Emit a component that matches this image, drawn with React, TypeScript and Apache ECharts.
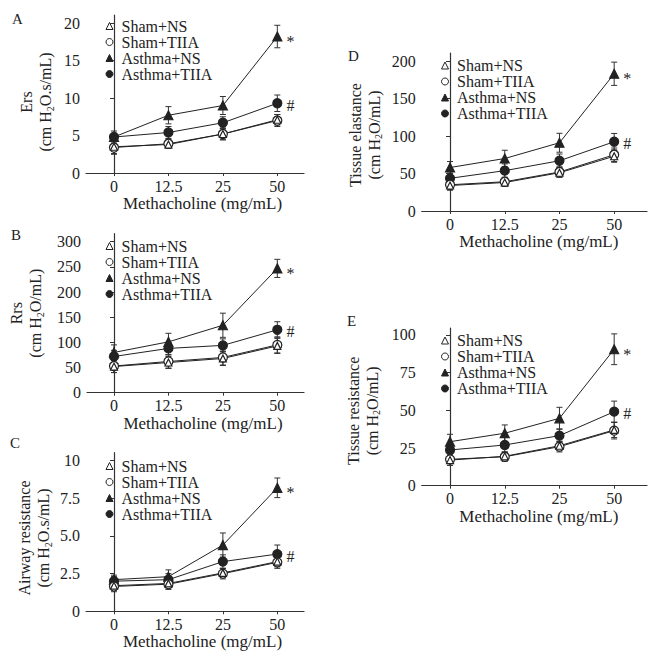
import React, { useEffect, useRef } from 'react';
import * as echarts from 'echarts';

const doses = ['0', '12.5', '25', '50'];
const groups = ['Sham+NS', 'Sham+TIIA', 'Asthma+NS', 'Asthma+TIIA'];

// Panel A: Ers
const ersShamNS = [3.5, 3.8, 5.2, 7.1];
const ersShamNSErr = [0.9, 0.5, 0.7, 0.7];
const ersShamTIIA = [3.4, 3.9, 5.2, 7.0];
const ersShamTIIAErr = [0.9, 0.6, 0.8, 0.8];
const ersAsthmaNS = [4.8, 7.7, 9.0, 18.2];
const ersAsthmaNSErr = [0.8, 1.15, 1.2, 1.5];
const ersAsthmaTIIA = [4.8, 5.4, 6.7, 9.3];
const ersAsthmaTIIAErr = [0.5, 0.8, 0.8, 1.1];
const ersTicks = [0, 5, 10, 15, 20];
const ersTickLabels = ['0', '5', '10', '15', '20'];

// Panel B: Rrs
const rrsShamNS = [52, 60, 68, 93];
const rrsShamNSErr = [12, 12, 14, 15];
const rrsShamTIIA = [53, 62, 70, 95];
const rrsShamTIIAErr = [13, 13, 15, 16];
const rrsAsthmaNS = [80, 101, 134, 247];
const rrsAsthmaNSErr = [15, 17, 24, 18];
const rrsAsthmaTIIA = [72, 88, 94, 125];
const rrsAsthmaTIIAErr = [12, 12, 13, 16];
const rrsTicks = [0, 50, 100, 150, 200, 250, 300];
const rrsTickLabels = ['0', '50', '100', '150', '200', '250', '300'];

// Panel C: Airway resistance
const awShamNS = [1.7, 1.85, 2.55, 3.3];
const awShamNSErr = [0.3, 0.3, 0.3, 0.35];
const awShamTIIA = [1.65, 1.8, 2.5, 3.25];
const awShamTIIAErr = [0.35, 0.35, 0.35, 0.4];
const awAsthmaNS = [2.1, 2.3, 4.4, 8.2];
const awAsthmaNSErr = [0.3, 0.45, 0.8, 0.65];
const awAsthmaTIIA = [2.0, 2.1, 3.3, 3.8];
const awAsthmaTIIAErr = [0.3, 0.4, 0.45, 0.6];
const awTicks = [0, 2.5, 5, 7.5, 10];
const awTickLabels = ['0', '2.5', '5.0', '7.5', '10'];

// Panel D: Tissue elastance
const teShamNS = [34, 38, 51, 73];
const teShamNSErr = [6, 5, 6, 8];
const teShamTIIA = [35, 39, 52, 75];
const teShamTIIAErr = [7, 6, 7, 9];
const teAsthmaNS = [58, 70, 91, 183];
const teAsthmaNSErr = [8, 11, 12.6, 15.5];
const teAsthmaTIIA = [43.6, 53.8, 67, 92.4];
const teAsthmaTIIAErr = [7, 9, 9, 11];
const teTicks = [0, 50, 100, 150, 200];
const teTickLabels = ['0', '50', '100', '150', '200'];

// Panel E: Tissue resistance
const trShamNS = [17, 19.5, 26.5, 37];
const trShamNSErr = [3.5, 3, 3, 5];
const trShamTIIA = [17.5, 19.2, 25.9, 36.5];
const trShamTIIAErr = [4, 3, 3.5, 5.5];
const trAsthmaNS = [29.2, 34.8, 44.7, 90.5];
const trAsthmaNSErr = [4.9, 5.5, 7.3, 10.2];
const trAsthmaTIIA = [23.7, 27, 33.2, 49.1];
const trAsthmaTIIAErr = [4, 5, 4.5, 7];
const trTicks = [0, 25, 50, 75, 100];
const trTickLabels = ['0', '25', '50', '75', '100'];

const FONT = '"Liberation Serif", "Times New Roman", serif';
const INK = '#222';
const AXIS = '#333';

type Panel = {
  letter: string;
  title: string;
  unit: string;
  values: number[][];
  errors: number[][];
  ticks: number[];
  tickLabels: string[];
  ymax: number;
  left: number;
  top: number;
  width: number;
  height: number;
  xmin: number;
  xmax: number;
  legendLeft: number;
  legendTop: number;
  nameGap: number;
  namePad: number;
  xNamePad: number;
  letterPos: [number, number];
};

const panels: Panel[] = [
  {
    letter: 'A', title: 'Ers', unit: 'O.s/mL)',
    values: [ersShamNS, ersShamTIIA, ersAsthmaNS, ersAsthmaTIIA],
    errors: [ersShamNSErr, ersShamTIIAErr, ersAsthmaNSErr, ersAsthmaTIIAErr],
    ticks: ersTicks, tickLabels: ersTickLabels, ymax: 21.07,
    left: 86, top: 15, width: 218, height: 158, xmin: -0.514, xmax: 3.49,
    legendLeft: 105.5, legendTop: 18, nameGap: 31, namePad: 16, xNamePad: 15, letterPos: [12, 20],
  },
  {
    letter: 'B', title: 'Rrs', unit: 'O/mL)',
    values: [rrsShamNS, rrsShamTIIA, rrsAsthmaNS, rrsAsthmaTIIA],
    errors: [rrsShamNSErr, rrsShamTIIAErr, rrsAsthmaNSErr, rrsAsthmaTIIAErr],
    ticks: rrsTicks, tickLabels: rrsTickLabels, ymax: 315.9,
    left: 87, top: 233.7, width: 217, height: 159, xmin: -0.496, xmax: 3.49,
    legendLeft: 105.5, legendTop: 238, nameGap: 42, namePad: 0, xNamePad: 15, letterPos: [11, 236],
  },
  {
    letter: 'C', title: 'Airway resistance', unit: 'O.s/mL)',
    values: [awShamNS, awShamTIIA, awAsthmaNS, awAsthmaTIIA],
    errors: [awShamNSErr, awShamTIIAErr, awAsthmaNSErr, awAsthmaTIIAErr],
    ticks: awTicks, tickLabels: awTickLabels, ymax: 10.53,
    left: 86, top: 452.7, width: 218, height: 158.6, xmin: -0.514, xmax: 3.49,
    legendLeft: 105.5, legendTop: 458, nameGap: 33, namePad: 12, xNamePad: 15, letterPos: [10, 444],
  },
  {
    letter: 'D', title: 'Tissue elastance', unit: 'O/mL)',
    values: [teShamNS, teShamTIIA, teAsthmaNS, teAsthmaTIIA],
    errors: [teShamNSErr, teShamTIIAErr, teAsthmaNSErr, teAsthmaTIIAErr],
    ticks: teTicks, tickLabels: teTickLabels, ymax: 210.7,
    left: 421.7, top: 53, width: 225.3, height: 158, xmin: -0.518, xmax: 3.6,
    legendLeft: 441, legendTop: 57.5, nameGap: 38, namePad: 6, xNamePad: 9, letterPos: [348, 57],
  },
  {
    letter: 'E', title: 'Tissue resistance', unit: 'O/mL)',
    values: [trShamNS, trShamTIIA, trAsthmaNS, trAsthmaTIIA],
    errors: [trShamNSErr, trShamTIIAErr, trAsthmaNSErr, trAsthmaTIIAErr],
    ticks: trTicks, tickLabels: trTickLabels, ymax: 104.6,
    left: 421.7, top: 328, width: 225.3, height: 157.7, xmin: -0.518, xmax: 3.6,
    legendLeft: 441, legendTop: 332.5, nameGap: 40, namePad: 8, xNamePad: 9, letterPos: [347, 322],
  },
];

const symbolOf = [
  { symbol: 'triangle', size: 7, fill: '#fff' },
  { symbol: 'circle', size: 9, fill: '#fff' },
  { symbol: 'triangle', size: 9, fill: INK },
  { symbol: 'circle', size: 9, fill: INK },
];

const renderErr = (_params: any, api: any) => {
  const x = api.value(0);
  const lo = api.value(1);
  const hi = api.value(2);
  const t = api.coord([x, hi]);
  const b = api.coord([x, lo]);
  const w = 3;
  const style = { stroke: AXIS, lineWidth: 1, fill: 'none' };
  return {
    type: 'group',
    children: [
      { type: 'line', shape: { x1: t[0], y1: t[1], x2: b[0], y2: b[1] }, style },
      { type: 'line', shape: { x1: t[0] - w, y1: t[1], x2: t[0] + w, y2: t[1] }, style },
      { type: 'line', shape: { x1: b[0] - w, y1: b[1], x2: b[0] + w, y2: b[1] }, style },
    ],
  };
};

function buildOption() {
  const grid: any[] = [];
  const xAxis: any[] = [];
  const yAxis: any[] = [];
  const series: any[] = [];
  const legend: any[] = [];
  const graphic: any[] = [];

  panels.forEach((p, i) => {
    grid.push({ left: p.left, top: p.top, width: p.width, height: p.height, containLabel: false });
    xAxis.push({
      type: 'value', gridIndex: i, min: p.xmin, max: p.xmax,
      name: 'Methacholine (mg/mL)', nameLocation: 'middle', nameGap: 20,
      nameTextStyle: { fontFamily: FONT, fontSize: 17, color: INK, padding: [0, 0, 0, p.xNamePad] },
      axisLine: { lineStyle: { color: AXIS, width: 1.2 } },
      axisTick: { show: true, length: 3, customValues: [0, 1, 2, 3], lineStyle: { color: AXIS } },
      axisLabel: {
        customValues: [0, 1, 2, 3], margin: 5,
        formatter: (v: number) => doses[Math.round(v)],
        fontFamily: FONT, fontSize: 16, color: INK,
      },
      splitLine: { show: false },
    });
    yAxis.push({
      type: 'value', gridIndex: i, min: 0, max: p.ymax,
      name: `{t|${p.title}}\n{t|(cm H}{s|2}{t|${p.unit}}`,
      nameLocation: 'middle', nameGap: p.nameGap, nameRotate: 90,
      nameTextStyle: {
        padding: [0, p.namePad, 0, 0],
        rich: {
          t: { fontFamily: FONT, fontSize: 16, color: INK, lineHeight: 19 },
          s: { fontFamily: FONT, fontSize: 10, color: INK, lineHeight: 10, verticalAlign: 'bottom' },
        },
      },
      axisLine: { show: true, lineStyle: { color: AXIS, width: 1.2 } },
      axisTick: { show: true, length: 4, customValues: p.ticks, lineStyle: { color: AXIS } },
      axisLabel: {
        customValues: p.ticks, margin: 6,
        formatter: (v: number) => {
          const k = p.ticks.findIndex((t) => Math.abs(t - v) < 1e-6);
          return k >= 0 ? p.tickLabels[k] : '';
        },
        fontFamily: FONT, fontSize: 16, color: INK,
      },
      splitLine: { show: false },
    });

    const errData: number[][] = [];
    p.values.forEach((vals, g) => {
      vals.forEach((v, k) => errData.push([k, v - p.errors[g][k], v + p.errors[g][k]]));
    });
    series.push({
      type: 'custom', name: 'err' + p.letter, xAxisIndex: i, yAxisIndex: i,
      renderItem: renderErr, data: errData, encode: { x: 0, y: [1, 2] }, z: 1, silent: true,
    });

    const order = [3, 2, 1, 0];
    order.forEach((g) => {
      const s = symbolOf[g];
      const data = p.values[g].map((v, k) => {
        if (k === 3 && (g === 2 || g === 3)) {
          return {
            value: [k, v],
            label: {
              show: true, position: 'right', distance: 4,
              formatter: g === 2 ? '*' : '#',
              offset: g === 2 ? [0, 5] : [0, 2],
              fontFamily: FONT, fontSize: 16, color: INK,
            },
          };
        }
        return [k, v];
      });
      series.push({
        type: 'line', name: groups[g], xAxisIndex: i, yAxisIndex: i, data,
        symbol: s.symbol, symbolSize: s.size,
        itemStyle: { color: s.fill, borderColor: INK, borderWidth: 1.2 },
        lineStyle: { color: INK, width: 1 },
        z: 3, silent: true,
      });
    });

    legend.push({
      left: p.legendLeft, top: p.legendTop, orient: 'vertical',
      itemWidth: 7, itemHeight: 7, itemGap: 0, selectedMode: false, padding: 0,
      textStyle: { fontFamily: FONT, fontSize: 16, color: INK, lineHeight: 15, padding: [0, 0, 0, 3.5] },
      data: groups.map((name, g) => ({
        name,
        icon: symbolOf[g].symbol,
        itemStyle: { color: symbolOf[g].fill, borderColor: INK, borderWidth: 1 },
      })),
    });

    graphic.push({
      type: 'text', left: p.letterPos[0], top: p.letterPos[1] - 9,
      style: { text: p.letter, font: `15px ${FONT}`, fill: INK },
    });
  });

  return { animation: false, backgroundColor: '#fff', grid, xAxis, yAxis, series, legend, graphic };
}

export default function App() {
  const ref = useRef<HTMLDivElement>(null);
  useEffect(() => {
    if (!ref.current) return;
    const chart = echarts.init(ref.current, undefined, { renderer: 'svg' });
    chart.setOption(buildOption() as any);
    return () => chart.dispose();
  }, []);
  return (
    <div
      ref={ref}
      style={{ position: 'fixed', left: 0, top: 0, width: 649, height: 655, background: '#fff' }}
    />
  );
}
